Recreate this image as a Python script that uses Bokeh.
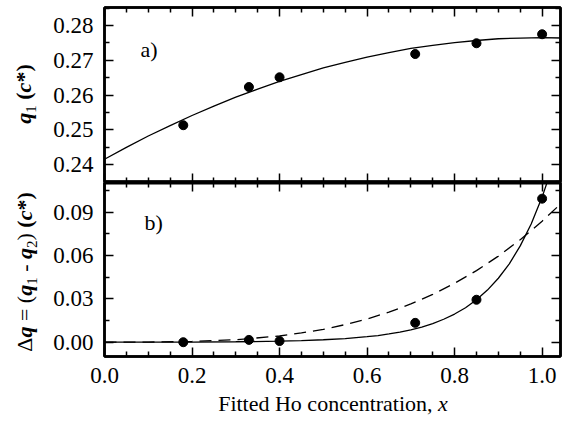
from bokeh.plotting import figure
from bokeh.models import Range1d, LinearAxis, FixedTicker, NumeralTickFormatter, Label, Div
from bokeh.layouts import column, row
from bokeh.embed import file_html
from bokeh.resources import INLINE

# ---------------- data ----------------
x_data = [0.18, 0.33, 0.40, 0.71, 0.85, 1.00]
q1_data = [0.2513, 0.2623, 0.2651, 0.2718, 0.2749, 0.2775]
dq_data = [0.0000, 0.0016, 0.0008, 0.0134, 0.0294, 0.0994]

q1_fit_x = [0.0, 0.05, 0.1, 0.15, 0.2, 0.25, 0.3, 0.35, 0.4, 0.45, 0.5, 0.55,
            0.6, 0.65, 0.7, 0.75, 0.8, 0.85, 0.9, 0.95, 1.0, 1.05]
q1_fit_y = [0.2415, 0.2449, 0.2482, 0.2512, 0.2541, 0.2568, 0.2594, 0.2617,
            0.2639, 0.2659, 0.2678, 0.2694, 0.2709, 0.2722, 0.2734, 0.2743,
            0.2751, 0.2757, 0.2762, 0.2764, 0.2765, 0.2764]

dq_fit_x = [0.0, 0.1, 0.2, 0.3, 0.4, 0.45, 0.5, 0.55, 0.6, 0.625, 0.65, 0.675,
            0.7, 0.725, 0.75, 0.775, 0.8, 0.825, 0.85, 0.875, 0.9, 0.925,
            0.95, 0.975, 1.0, 1.02]
dq_fit_y = [0.0000, 0.0001, 0.0001, 0.0003, 0.0007, 0.0011, 0.0017, 0.0025,
            0.0038, 0.0046, 0.0057, 0.0070, 0.0086, 0.0105, 0.0129, 0.0159,
            0.0195, 0.0239, 0.0294, 0.0361, 0.0443, 0.0543, 0.0667, 0.0819,
            0.1005, 0.1184]

dq_dash_x = [0.0, 0.1, 0.2, 0.3, 0.4, 0.45, 0.5, 0.55, 0.6, 0.65, 0.7, 0.75,
             0.8, 0.85, 0.9, 0.95, 1.0, 1.04]
dq_dash_y = [0.0000, 0.0001, 0.0005, 0.0017, 0.0043, 0.0064, 0.0089, 0.0122,
             0.0161, 0.0208, 0.0265, 0.0331, 0.0408, 0.0496, 0.0596, 0.0710,
             0.0838, 0.0951]

x_ticks = [0.0, 0.2, 0.4, 0.6, 0.8, 1.0]
x_minor = [0.05, 0.1, 0.15, 0.25, 0.3, 0.35, 0.45, 0.5, 0.55, 0.65, 0.7, 0.75,
           0.85, 0.9, 0.95, 1.05]
top_ticks = [0.24, 0.25, 0.26, 0.27, 0.28]
top_minor = [0.235, 0.245, 0.255, 0.265, 0.275, 0.285]
bot_ticks = [0.00, 0.03, 0.06, 0.09]
bot_minor = [-0.015, 0.015, 0.045, 0.075, 0.105]

FONT = "Liberation Serif"
LEFT_DIV = 40
W = 569 - LEFT_DIV
LEFT, RIGHT = 104 - LEFT_DIV, 9

x_range = Range1d(0.0, 1.042)


def make_axis(ticks, minor, fmt=None, labels=True, line_width=2.5):
    ax = LinearAxis(ticker=FixedTicker(ticks=ticks, minor_ticks=minor))
    ax.major_tick_in = 9
    ax.major_tick_out = 0
    ax.minor_tick_in = 5
    ax.minor_tick_out = 0
    ax.major_tick_line_width = 1.5
    ax.minor_tick_line_width = 1.5
    ax.major_tick_line_color = "black"
    ax.minor_tick_line_color = "black"
    ax.axis_line_width = line_width
    ax.axis_line_color = "black"
    ax.axis_label = None
    if labels:
        ax.formatter = NumeralTickFormatter(format=fmt)
        ax.major_label_text_font = FONT
        ax.major_label_text_font_size = "23px"
        ax.major_label_text_color = "black"
        ax.major_label_standoff = 11
    else:
        ax.major_label_text_font_size = "0px"
        ax.major_label_text_color = None
        ax.major_label_text_alpha = 0
        ax.major_label_standoff = 0
    return ax


def base_fig(height, y_range, b_top, b_bottom):
    p = figure(width=W, height=height, x_range=x_range, y_range=y_range,
               x_axis_type=None, y_axis_type=None,
               output_backend="svg", toolbar_location=None,
               min_border_left=LEFT, min_border_right=RIGHT,
               min_border_top=b_top, min_border_bottom=b_bottom)
    p.grid.visible = False
    p.outline_line_color = "black"
    p.outline_line_width = 2.5
    p.background_fill_color = "white"
    p.border_fill_color = "white"
    return p


# ---------------- top panel ----------------
p1 = base_fig(182, Range1d(0.2348, 0.2852), 7, 0)
p1.add_layout(make_axis(top_ticks, top_minor, "0.00"), "left")
p1.add_layout(make_axis(top_ticks, top_minor, labels=False), "right")
p1.add_layout(make_axis(x_ticks, x_minor, labels=False), "above")
p1.add_layout(make_axis(x_ticks, x_minor, labels=False, line_width=4), "below")

p1.line(q1_fit_x, q1_fit_y, line_color="black", line_width=1.3)
p1.scatter(x_data, q1_data, size=9, color="black")

p1.add_layout(Label(x=36, y=133, x_units="screen", y_units="screen", text="a)",
                    text_font=FONT, text_font_size="22px", text_color="black",
                    text_baseline="alphabetic"))

# ---------------- bottom panel ----------------
p2 = base_fig(210, Range1d(-0.0099, 0.1106), 0, 36)
p2.add_layout(make_axis(bot_ticks, bot_minor, "0.00"), "left")
p2.add_layout(make_axis(bot_ticks, bot_minor, labels=False), "right")
p2.add_layout(make_axis(x_ticks, x_minor, labels=False, line_width=4), "above")
p2.add_layout(make_axis(x_ticks, x_minor, "0.0"), "below")

p2.line(dq_dash_x, dq_dash_y, line_color="black", line_width=1.3, line_dash="12 7")
p2.line(dq_fit_x, dq_fit_y, line_color="black", line_width=1.3)
p2.scatter(x_data, dq_data, size=9, color="black")

p2.add_layout(Label(x=40, y=134, x_units="screen", y_units="screen", text="b)",
                    text_font=FONT, text_font_size="22px", text_color="black",
                    text_baseline="alphabetic"))

# ---------------- axis titles (mixed styles) ----------------
span_style = ("position:absolute;transform:translate(-50%,-50%) rotate(-90deg);"
              "white-space:nowrap;line-height:22px;")
sub_style = "font-size:15px;line-height:0;"
bi = "<b><i>{}</i></b>"
top_title = (bi.format("q") + f'<sub style="{sub_style}">1</sub>&nbsp;'
             + "<b>(" + "<i>c</i>" + "*)</b>")
bot_title = ("&Delta;" + bi.format("q") + "&nbsp;=&nbsp;(" + bi.format("q")
             + f'<sub style="{sub_style}">1</sub>&nbsp;-&nbsp;' + bi.format("q")
             + f'<sub style="{sub_style}">2</sub>)&nbsp;' + "<b>(<i>c</i>*)</b>")

left_html = (
    f'<div style="position:relative;width:{LEFT_DIV}px;height:430px;'
    f"font-family:'{FONT}';font-size:22px;color:black;\">"
    f'<span style="{span_style}left:24px;top:94px;">{top_title}</span>'
    f'<span style="{span_style}left:25px;top:272px;">{bot_title}</span>'
    "</div>"
)
div_left = Div(text=left_html, width=LEFT_DIV, height=430, margin=0)

x_html = (
    f'<div style="position:relative;width:{W}px;height:38px;'
    f"font-family:'{FONT}';font-size:22px;color:black;\">"
    '<span style="position:absolute;left:293px;top:1px;transform:translate(-50%,0);'
    'white-space:nowrap;line-height:22px;">Fitted Ho concentration, <i>x</i></span>'
    "</div>"
)
div_x = Div(text=x_html, width=W, height=38, margin=0)

layout = row(div_left, column(p1, p2, div_x, spacing=0), spacing=0)
open("out.html", "w").write(file_html(layout, INLINE))
